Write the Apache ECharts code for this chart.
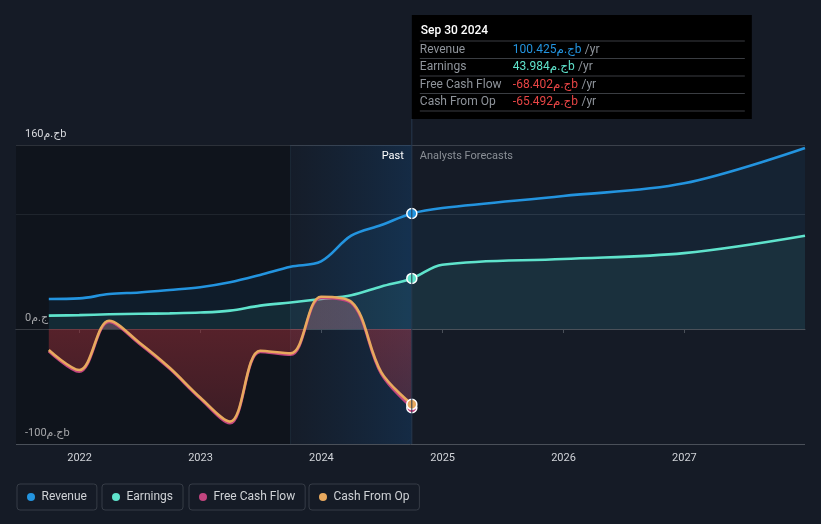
<!DOCTYPE html>
<html><head><meta charset="utf-8">
<script src="https://cdn.jsdelivr.net/npm/echarts@6/dist/echarts.min.js"></script>
<style>html,body{margin:0;padding:0;background:#151b26;}#c{width:821px;height:524px;}</style>
</head><body><div id="c"></div>
<script>
// ---- data ----
const pastDates = ['2021-09-30','2021-12-31','2022-03-31','2022-06-30','2022-09-30','2022-12-31','2023-03-31','2023-06-30','2023-09-30','2023-12-31','2024-03-31','2024-06-30','2024-09-30'];
const forecastDates = ['2024-12-31','2025-12-31','2026-12-31','2027-12-31'];
const revenuePast = [26.1, 26.6, 30.4, 31.8, 33.9, 36.3, 40.6, 47.0, 54.2, 58.8, 81.1, 90.4, 100.425];
const revenueForecast = [105.2, 115.7, 126.7, 157.4];
const earningsPast = [11.6, 12.1, 12.8, 13.2, 13.6, 14.3, 16.0, 20.3, 23.1, 26.1, 29.3, 37.0, 43.984];
const earningsForecast = [55.9, 60.9, 66.0, 81.1];
const cfoPast = [-18.3, -35.7, 7.2, -11.7, -33.7, -59.5, -80.5, -18.9, -21.2, 28.1, 23.7, -37.7, -65.492];
const fcfPast = [-19.3, -37.2, 6.2, -12.7, -34.7, -60.5, -82.0, -19.9, -22.4, 27.1, 22.5, -39.2, -68.402];
const yTickLabels = { '-100': '-100ج.مb', '0': '0ج.م', '160': '160ج.مb' };
const presentDate = '2024-09-30';
const presentLabel = 'Sep 30 2024';
const CUR = 'ج.م';

const seriesNames = ['Revenue', 'Earnings', 'Free Cash Flow', 'Cash From Op'];
const seriesColors = ['#2394df', '#5fe3cc', '#c2457f', '#e8a95e'];
const valueColors = ['#2394df', '#5fe3cc', '#e84545', '#e84545'];
const presentValues = [revenuePast[revenuePast.length-1], earningsPast[earningsPast.length-1], fcfPast[fcfPast.length-1], cfoPast[cfoPast.length-1]];

const FONT = 'Roboto, "Noto Sans", "DejaVu Sans", sans-serif';
const Y_MIN = -100, Y_MAX = 160;

function build(dates, vals) {
  return dates.map((d, i) => {
    if (d === presentDate) {
      return { value: [d, vals[i]], symbol: 'circle', symbolSize: 10 };
    }
    return { value: [d, vals[i]], symbol: 'none' };
  });
}
const allDates = pastDates.concat(forecastDates);

const chart = echarts.init(document.getElementById('c'));
const gridTop = 145, gridBottom = 80;
const zeroFrac = (Y_MAX - 0) / (Y_MAX - Y_MIN);

function lineSeries(idx, data, area, z) {
  return {
    name: seriesNames[idx], type: 'line', data: data, smooth: 0.35,
    showSymbol: true, symbol: 'none', z: z,
    lineStyle: { color: seriesColors[idx], width: 2.6 },
    itemStyle: { color: seriesColors[idx], borderColor: '#ffffff', borderWidth: 1.5 },
    areaStyle: area, emphasis: { disabled: true }, animation: false
  };
}

const option = {
  backgroundColor: '#151b26',
  animation: false,
  textStyle: { fontFamily: FONT },
  grid: { left: 16, right: 16, top: gridTop, bottom: gridBottom, containLabel: false },
  xAxis: {
    type: 'time', min: '2021-06-23', max: '2027-12-31',
    minInterval: 365 * 24 * 3600 * 1000, maxInterval: 366 * 24 * 3600 * 1000,
    axisLine: { show: true, lineStyle: { color: '#4a5059', width: 1 } },
    axisTick: { show: true, length: 4, lineStyle: { color: '#4a5059' } },
    splitLine: { show: false },
    axisLabel: { color: '#d0d3d8', fontSize: 11, margin: 9, formatter: '{yyyy}', fontFamily: FONT }
  },
  yAxis: {
    type: 'value', min: Y_MIN, max: Y_MAX, interval: 100,
    axisLine: { show: false }, axisTick: { show: false },
    splitLine: { show: true, lineStyle: { color: ['#4a5059', '#a5a8ad', '#2a313c', '#3b414b'], width: 1 } },
    axisLabel: {
      inside: true, margin: 9, color: '#d8dade', fontSize: 11, fontFamily: FONT,
      verticalAlign: 'bottom', padding: [0, 0, 5, 0],
      formatter: function (v) { return yTickLabels[String(v)] || ''; }
    }
  },
  legend: seriesNames.map((n, i) => ({
    data: [n], left: [17, 102, 189, 309][i], top: 484,
    orient: 'horizontal', icon: 'circle', itemWidth: 11, itemHeight: 8,
    itemStyle: { borderWidth: 0 },
    padding: [7, 10, 7, 10], borderColor: '#363c46', borderWidth: 1, borderRadius: 3,
    textStyle: { color: '#cfd2d6', fontSize: 12, fontFamily: FONT }
  })),
  series: [
    {
      type: 'line', name: '_bg', data: [], silent: true,
      markArea: {
        silent: true, z: 1,
        data: [
          [{ xAxis: '2021-06-23', itemStyle: { color: 'rgba(0,0,0,0.24)' } }, { xAxis: '2023-09-30' }],
          [{ xAxis: '2023-09-30', itemStyle: { color: {
              type: 'linear', x: 0, y: 0, x2: 1, y2: 0,
              colorStops: [{ offset: 0, color: 'rgba(20,70,120,0.04)' }, { offset: 1, color: 'rgba(20,80,140,0.30)' }] } } },
           { xAxis: presentDate }]
        ]
      }
    },
    lineSeries(0, build(allDates, revenuePast.concat(revenueForecast)), { color: 'rgba(35,148,223,0.10)' }, 2),
    lineSeries(1, build(allDates, earningsPast.concat(earningsForecast)), { color: 'rgba(94,230,204,0.10)' }, 3),
    lineSeries(2, build(pastDates, fcfPast), {
      color: { type: 'linear', global: true, x: 0, y: gridTop, x2: 0, y2: 524 - gridBottom,
        colorStops: [
          { offset: 0, color: 'rgba(230,140,160,0.40)' },
          { offset: zeroFrac, color: 'rgba(230,140,160,0.40)' },
          { offset: zeroFrac, color: 'rgba(200,55,65,0.55)' },
          { offset: 1, color: 'rgba(200,55,65,0.30)' }
        ] }
    }, 4),
    lineSeries(3, build(pastDates, cfoPast), null, 5)
  ]
};
chart.setOption(option);

// ---- overlay: present line, Past / Forecast labels, tooltip panel ----
const px = chart.convertToPixel({ xAxisIndex: 0 }, presentDate);
const pxStart = chart.convertToPixel({ xAxisIndex: 0 }, '2023-09-30');
const yTop = chart.convertToPixel({ yAxisIndex: 0 }, Y_MAX);
const yBot = chart.convertToPixel({ yAxisIndex: 0 }, Y_MIN);
const boxTop = 15, boxH = 104, boxW = 340;
const rowY = [49.5, 67, 84.5, 102];
const sepY = [41, 58.5, 76, 93.5, 111];
const g = [];
g.push({ type: 'line', z: 50, shape: { x1: px, y1: boxTop + boxH, x2: px, y2: yBot }, style: { stroke: '#26384c', lineWidth: 1 } });
g.push({ type: 'line', z: 1, shape: { x1: pxStart, y1: yTop, x2: pxStart, y2: yBot }, style: { stroke: 'rgba(60,90,120,0.25)', lineWidth: 1 } });
g.push({ type: 'rect', z: 60, shape: { x: px, y: boxTop, width: boxW, height: boxH }, style: { fill: '#000000' } });
g.push({ type: 'text', z: 61, x: px + 9, y: 31, style: { text: presentLabel, fill: '#ffffff', font: '500 12px ' + FONT, verticalAlign: 'middle' } });
sepY.forEach(y => g.push({ type: 'line', z: 61, shape: { x1: px + 8, y1: y, x2: px + 333, y2: y }, style: { stroke: '#3a3d42', lineWidth: 1 } }));
seriesNames.forEach((n, i) => {
  g.push({ type: 'text', z: 61, x: px + 8, y: rowY[i], style: { text: n, fill: '#8f949b', font: '12px ' + FONT, verticalAlign: 'middle' } });
  const v = presentValues[i].toFixed(3) + CUR + 'b';
  g.push({ type: 'text', z: 61, x: px + 101, y: rowY[i], style: {
    text: '{v|' + v + '} {u|/yr}', verticalAlign: 'middle',
    rich: { v: { fill: valueColors[i], font: '12px ' + FONT }, u: { fill: '#8f949b', font: '12px ' + FONT } } } });
});
g.push({ type: 'text', z: 40, x: px - 8, y: yTop + 11, style: { text: 'Past', fill: '#ffffff', font: '11px ' + FONT, align: 'right', verticalAlign: 'middle' } });
g.push({ type: 'text', z: 40, x: px + 8, y: yTop + 11, style: { text: 'Analysts Forecasts', fill: '#8a8f96', font: '11px ' + FONT, align: 'left', verticalAlign: 'middle' } });
chart.setOption({ graphic: g });
</script>
</body></html>
